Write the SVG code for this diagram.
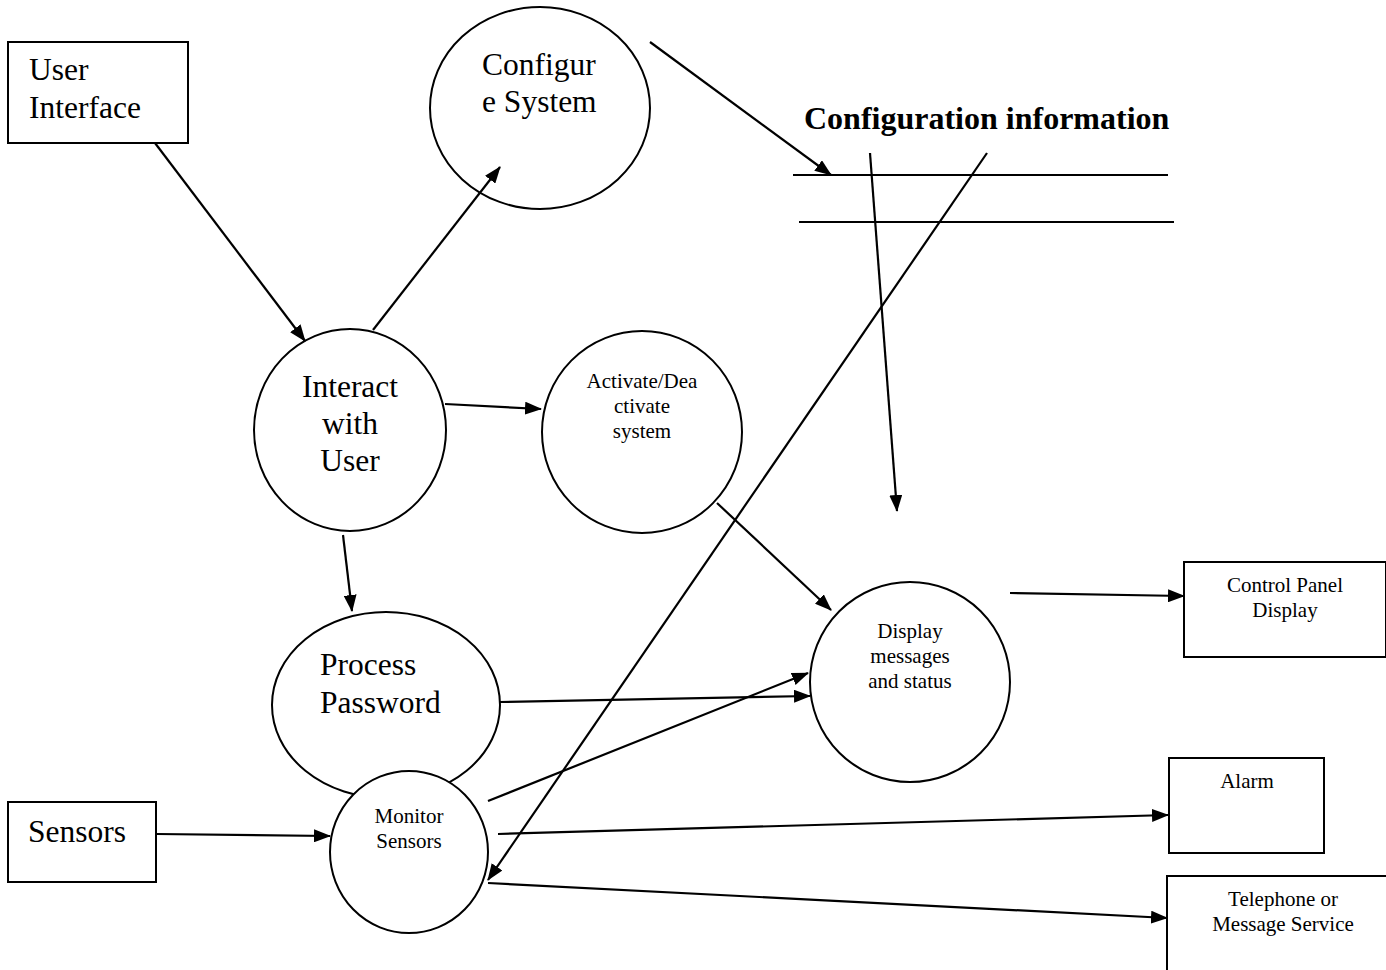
<svg xmlns="http://www.w3.org/2000/svg" width="1386" height="970" viewBox="0 0 1386 970">
<style>
.shape{fill:#fff;stroke:#000;stroke-width:2}
.big{font-family:"Liberation Serif","Times New Roman",serif;font-size:31.5px;fill:#000}
.small{font-family:"Liberation Serif","Times New Roman",serif;font-size:21px;fill:#000;text-anchor:middle}
.mid{text-anchor:middle}
.title{font-family:"Liberation Serif","Times New Roman",serif;font-size:32px;font-weight:bold;fill:#000}
.conn line{stroke:#000;stroke-width:2.2;fill:none}
.arr{marker-end:url(#ah)}
</style>
<defs>
<marker id="ah" markerUnits="userSpaceOnUse" markerWidth="17" markerHeight="13" refX="16" refY="6.5" orient="auto">
<path d="M0,0 L17,6.5 L0,13 z" fill="#000"/>
</marker>
</defs>
<rect width="1386" height="970" fill="#fff"/>
<g id="user-interface">
<rect class="shape" x="8" y="42" width="180" height="101"/>
<text class="big" x="29" y="80">User</text>
<text class="big" x="29" y="118">Interface</text>
</g>
<g id="configure-system">
<ellipse class="shape" cx="540" cy="108" rx="110" ry="101"/>
<text class="big" x="482" y="75">Configur</text>
<text class="big" x="482" y="112">e System</text>
</g>
<g id="config-info">
<text class="title" x="804" y="129">Configuration information</text>
<line x1="793" y1="175" x2="1168" y2="175" stroke="#000" stroke-width="2"/>
<line x1="799" y1="222" x2="1174" y2="222" stroke="#000" stroke-width="2"/>
</g>
<g id="interact-with-user">
<ellipse class="shape" cx="350" cy="430" rx="96" ry="101"/>
<text class="big mid" x="350" y="397">Interact</text>
<text class="big mid" x="350" y="434">with</text>
<text class="big mid" x="350" y="471">User</text>
</g>
<g id="activate-deactivate">
<ellipse class="shape" cx="642" cy="432" rx="100" ry="101"/>
<text class="small" x="642" y="388">Activate/Dea</text>
<text class="small" x="642" y="413">ctivate</text>
<text class="small" x="642" y="438">system</text>
</g>
<g id="process-password">
<ellipse class="shape" cx="386" cy="705" rx="114" ry="93"/>
<text class="big" x="320" y="675">Process</text>
<text class="big" x="320" y="713">Password</text>
</g>
<g id="display-messages">
<ellipse class="shape" cx="910" cy="682" rx="100" ry="100"/>
<text class="small" x="910" y="638">Display</text>
<text class="small" x="910" y="663">messages</text>
<text class="small" x="910" y="688">and status</text>
</g>
<g id="monitor-sensors">
<ellipse class="shape" cx="409" cy="852" rx="79" ry="81"/>
<text class="small" x="409" y="823">Monitor</text>
<text class="small" x="409" y="848">Sensors</text>
</g>
<g id="sensors">
<rect class="shape" x="8" y="802" width="148" height="80"/>
<text class="big" x="28" y="842">Sensors</text>
</g>
<g id="control-panel-display">
<rect class="shape" x="1184" y="562" width="202" height="95"/>
<text class="small" x="1285" y="592">Control Panel</text>
<text class="small" x="1285" y="617">Display</text>
</g>
<g id="alarm">
<rect class="shape" x="1169" y="758" width="155" height="95"/>
<text class="small" x="1247" y="788">Alarm</text>
</g>
<g id="telephone">
<rect class="shape" x="1167" y="876" width="240" height="120"/>
<text class="small" x="1283" y="906">Telephone or</text>
<text class="small" x="1283" y="931">Message Service</text>
</g>
<g id="connectors" class="conn">
<line class="arr" x1="155" y1="143" x2="305" y2="341"/>
<line class="arr" x1="373" y1="330" x2="500" y2="167"/>
<line class="arr" x1="650" y1="42" x2="831" y2="175"/>
<line class="arr" x1="870" y1="153" x2="897" y2="511"/>
<line class="arr" x1="987" y1="153" x2="488" y2="880"/>
<line class="arr" x1="445" y1="404" x2="541" y2="409"/>
<line class="arr" x1="343" y1="535" x2="352" y2="611"/>
<line class="arr" x1="717" y1="503" x2="831" y2="610"/>
<line class="arr" x1="1010" y1="593" x2="1184" y2="596"/>
<line class="arr" x1="500" y1="702" x2="810" y2="696"/>
<line class="arr" x1="488" y1="801" x2="808" y2="673"/>
<line class="arr" x1="157" y1="834" x2="330" y2="836"/>
<line class="arr" x1="498" y1="834" x2="1168" y2="815"/>
<line class="arr" x1="488" y1="883" x2="1167" y2="918"/>
</g>
</svg>
